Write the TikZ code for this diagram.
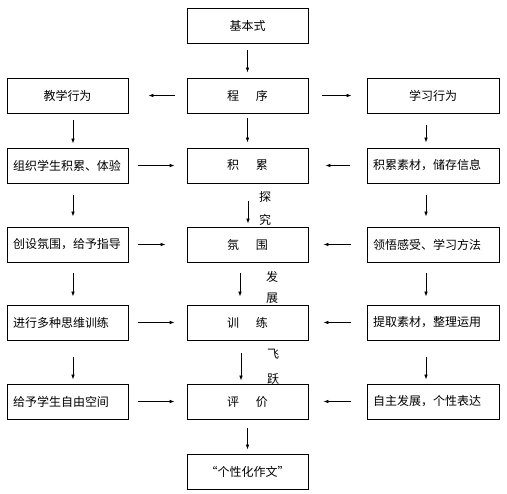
\documentclass[tikz,border=0pt]{standalone}
\usepackage{fontspec}
\setmainfont{Noto Sans CJK SC}
\usetikzlibrary{arrows.meta}

\begin{document}
\begin{tikzpicture}[x=1pt,y=-1pt,>={Latex[length=5pt,width=3.6pt]}]
  \tikzstyle{box}=[draw=black, line width=0.8pt, minimum height=35pt, inner sep=0pt, font=\fontsize{12}{14}\selectfont]
  \tikzstyle{midbox}=[box, minimum width=121pt, align=center]
  \tikzstyle{leftbox}=[box, text width=109pt, inner xsep=6pt, align=left]
  \tikzstyle{rightbox}=[box, text width=120pt, inner xsep=6pt, align=left]
  \tikzstyle{flow}=[->, line width=0.8pt]
  \tikzstyle{note}=[inner sep=0pt, font=\fontsize{12}{14}\selectfont]

  \path[use as bounding box] (0,0) rectangle (507,494);

  % Middle column: the writing process.
  \node[midbox] (basic) at (247.5,25.5) {基本式};
  \node[midbox] (proc) at (247.5,95.5) {程\hspace{1.4em}序};
  \node[midbox] (accum) at (247.5,165.5) {积\hspace{1.4em}累};
  \node[midbox] (ambient) at (247.5,244.5) {氛\hspace{1.4em}围};
  \node[midbox] (train) at (247.5,322.5) {训\hspace{1.4em}练};
  \node[midbox] (judge) at (247.5,401.5) {评\hspace{1.4em}价};
  \node[midbox] (essay) at (247.5,471.5) {“个性化作文”};

  % Left column: what the teacher does.
  \node[leftbox, align=center] (teach) at (67.5,95.5) {教学行为};
  \node[leftbox] (tA) at (67.5,165.5) {组织学生积累、体验};
  \node[leftbox] (tB) at (67.5,244.5) {创设氛围，给予指导};
  \node[leftbox] (tC) at (67.5,322.5) {进行多种思维训练};
  \node[leftbox] (tD) at (67.5,401.5) {给予学生自由空间};

  % Right column: what the pupil does.
  \node[rightbox, align=center] (learn) at (433,95.5) {学习行为};
  \node[rightbox] (sA) at (433,165.5) {积累素材，储存信息};
  \node[rightbox] (sB) at (433,244.5) {领悟感受、学习方法};
  \node[rightbox] (sC) at (433,322.5) {提取素材，整理运用};
  \node[rightbox] (sD) at (433,401.5) {自主发展，个性表达};

  % Words beside the middle arrows.
  \node[note] (tan) at (265,197) {探};
  \node[note] (jiu) at (265,220) {究};
  \node[note] (fa) at (272,277) {发};
  \node[note] (zhan) at (272,298) {展};
  \node[note] (fei) at (273,354) {飞};
  \node[note] (yue) at (273,379) {跃};

  % Middle arrows.
  \draw[flow, shorten <=7pt, shorten >=5pt] (basic) -- (proc);
  \draw[flow, shorten <=5pt, shorten >=5pt] (proc) -- (accum);
  \draw[flow, shorten <=18pt, shorten >=3pt] ([xshift=0.5pt]accum.south) -- ([xshift=0.5pt]ambient.north);
  \draw[flow, shorten <=11pt, shorten >=8pt] ([xshift=-7.5pt]ambient.south) -- ([xshift=-7.5pt]train.north);
  \draw[flow, shorten <=13pt, shorten >=3pt] ([xshift=-6.5pt]train.south) -- ([xshift=-6.5pt]judge.north);
  \draw[flow, shorten <=9pt, shorten >=4pt] (judge) -- (essay);

  % Split into the two sides.
  \draw[flow, shorten <=12pt, shorten >=20pt] (proc) -- (teach);
  \draw[flow, shorten <=14pt, shorten >=15pt] (proc) -- (learn);

  % Left column arrows.
  \draw[flow, shorten <=7pt, shorten >=4pt] ([xshift=5.5pt]teach.south) -- ([xshift=5.5pt]tA.north);
  \draw[flow, shorten <=12pt, shorten >=10pt] ([xshift=5.5pt]tA.south) -- ([xshift=5.5pt]tB.north);
  \draw[flow, shorten <=11pt, shorten >=8pt] ([xshift=5.5pt]tB.south) -- ([xshift=5.5pt]tC.north);
  \draw[flow, shorten <=17pt, shorten >=4pt] ([xshift=5.5pt]tC.south) -- ([xshift=5.5pt]tD.north);

  % Right column arrows.
  \draw[flow, shorten <=12pt, shorten >=5pt] ([xshift=-7pt]learn.south) -- ([xshift=-7pt]sA.north);
  \draw[flow, shorten <=12pt, shorten >=10pt] ([xshift=-7pt]sA.south) -- ([xshift=-7pt]sB.north);
  \draw[flow, shorten <=11pt, shorten >=8pt] ([xshift=-7pt]sB.south) -- ([xshift=-7pt]sC.north);
  \draw[flow, shorten <=17pt, shorten >=4pt] ([xshift=-7pt]sC.south) -- ([xshift=-7pt]sD.north);

  % Sides feeding the middle.
  \draw[flow, shorten <=10pt, shorten >=12pt] (tA) -- (accum);
  \draw[flow, shorten <=10pt, shorten >=21pt] (tB) -- (ambient);
  \draw[flow, shorten <=10pt, shorten >=12pt] (tC) -- (train);
  \draw[flow, shorten <=10pt, shorten >=12pt] (tD) -- (judge);
  \draw[flow, shorten <=17pt, shorten >=17pt] (sA) -- (accum);
  \draw[flow, shorten <=16pt, shorten >=15pt] (sB) -- (ambient);
  \draw[flow, shorten <=16pt, shorten >=15pt] (sC) -- (train);
  \draw[flow, shorten <=16pt, shorten >=15pt] (sD) -- (judge);
\end{tikzpicture}
\end{document}
